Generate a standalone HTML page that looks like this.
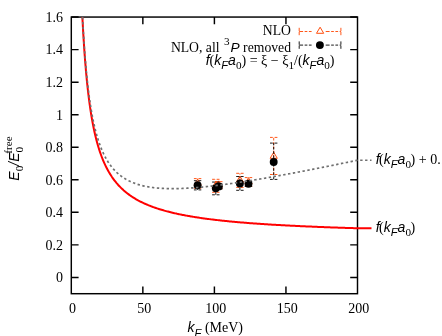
<!DOCTYPE html>
<html><head><meta charset="utf-8"><style>
html,body{margin:0;padding:0;background:#fff;}
svg{display:block;will-change:transform;}
text{font-family:"Liberation Serif",serif;font-size:14px;fill:#000;}
.s{font-family:"Liberation Sans",sans-serif;font-style:italic;}
.sub{font-size:11.2px;}
</style></head><body>
<svg width="442" height="336" viewBox="0 0 442 336">
<rect width="442" height="336" fill="#fff"/>
<g stroke="#000" stroke-width="1.45" fill="none">
<rect x="71.3" y="17.06" width="286.2" height="276.64"/>
<path d="M71.30,277.43 h7.3 M357.50,277.43 h-7.3"/><path d="M71.30,244.88 h7.3 M357.50,244.88 h-7.3"/><path d="M71.30,212.34 h7.3 M357.50,212.34 h-7.3"/><path d="M71.30,179.79 h7.3 M357.50,179.79 h-7.3"/><path d="M71.30,147.24 h7.3 M357.50,147.24 h-7.3"/><path d="M71.30,114.70 h7.3 M357.50,114.70 h-7.3"/><path d="M71.30,82.15 h7.3 M357.50,82.15 h-7.3"/><path d="M71.30,49.61 h7.3 M357.50,49.61 h-7.3"/><path d="M71.30,17.06 h7.3 M357.50,17.06 h-7.3"/><path d="M142.85,293.70 v-7.3 M142.85,17.06 v7.3"/><path d="M214.40,293.70 v-7.3 M214.40,17.06 v7.3"/><path d="M285.95,293.70 v-7.3 M285.95,17.06 v7.3"/>
</g>
<g><text x="63" y="282.23" text-anchor="end">0</text><text x="63" y="249.68" text-anchor="end">0.2</text><text x="63" y="217.14" text-anchor="end">0.4</text><text x="63" y="184.59" text-anchor="end">0.6</text><text x="63" y="152.04" text-anchor="end">0.8</text><text x="63" y="119.50" text-anchor="end">1</text><text x="63" y="86.95" text-anchor="end">1.2</text><text x="63" y="54.41" text-anchor="end">1.4</text><text x="63" y="21.86" text-anchor="end">1.6</text><text x="72.60" y="312.8" text-anchor="middle">0</text><text x="144.15" y="312.8" text-anchor="middle">50</text><text x="215.70" y="312.8" text-anchor="middle">100</text><text x="287.25" y="312.8" text-anchor="middle">150</text><text x="358.80" y="312.8" text-anchor="middle">200</text></g>
<g stroke="#ff4500" stroke-width="0.9" fill="none"><path d="M197.60,188.20 V178.60" stroke-dasharray="2.7,1.55"/><path d="M193.90,178.60 h7.4 M193.90,188.20 h7.4" stroke-dasharray="2.8,1.8,2.8,10"/><path d="M197.60,179.10 l3.6,6.1 h-7.2 z" fill="none" stroke-width="0.95"/><path d="M215.80,192.30 V179.30" stroke-dasharray="2.7,1.55"/><path d="M212.10,179.30 h7.4 M212.10,192.30 h7.4" stroke-dasharray="2.8,1.8,2.8,10"/><path d="M215.80,181.50 l3.6,6.1 h-7.2 z" fill="none" stroke-width="0.95"/><path d="M218.80,188.70 V181.70" stroke-dasharray="2.7,1.55"/><path d="M215.10,181.70 h7.4 M215.10,188.70 h7.4" stroke-dasharray="2.8,1.8,2.8,10"/><path d="M218.80,180.90 l3.6,6.1 h-7.2 z" fill="none" stroke-width="0.95"/><path d="M239.90,187.40 V173.30" stroke-dasharray="2.7,1.55"/><path d="M236.20,173.30 h7.4 M236.20,187.40 h7.4" stroke-dasharray="2.8,1.8,2.8,10"/><path d="M239.90,176.05 l3.6,6.1 h-7.2 z" fill="none" stroke-width="0.95"/><path d="M248.50,186.40 V177.60" stroke-dasharray="2.7,1.55"/><path d="M244.80,177.60 h7.4 M244.80,186.40 h7.4" stroke-dasharray="2.8,1.8,2.8,10"/><path d="M248.50,177.70 l3.6,6.1 h-7.2 z" fill="none" stroke-width="0.95"/><path d="M273.70,174.50 V137.40" stroke-dasharray="2.7,1.55"/><path d="M270.00,137.40 h7.4 M270.00,174.50 h7.4" stroke-dasharray="2.8,1.8,2.8,10"/><path d="M273.70,152.20 l3.6,6.1 h-7.2 z" fill="none" stroke-width="0.95"/>
<path d="M299.2,31.5 H312 M325.7,31.5 H340.9" stroke-dasharray="3.9,1.55,2.7,1.55,2.7,1.55"/><path d="M299.2,27.8 v7.4 M340.9,27.8 v7.4" stroke-dasharray="3.3,0.8"/>
<path d="M320.10,27.20 l3.6,6.1 h-7.2 z" fill="#fff" stroke-width="0.95"/>
</g>
<g stroke="#000" stroke-width="0.9" fill="none"><path d="M197.60,189.90 V180.70" stroke-dasharray="2.7,1.55"/><path d="M193.90,180.70 h7.4 M193.90,189.90 h7.4" stroke-dasharray="2.8,1.8,2.8,10"/><circle cx="197.60" cy="185.30" r="3.95" fill="#000" stroke="none"/><path d="M215.80,194.80 V182.05" stroke-dasharray="2.7,1.55"/><path d="M212.10,182.05 h7.4 M212.10,194.80 h7.4" stroke-dasharray="2.8,1.8,2.8,10"/><circle cx="215.80" cy="188.20" r="3.95" fill="#000" stroke="none"/><path d="M218.80,188.90 V183.90" stroke-dasharray="2.7,1.55"/><path d="M215.10,183.90 h7.4 M215.10,188.90 h7.4" stroke-dasharray="2.8,1.8,2.8,10"/><circle cx="218.80" cy="186.40" r="3.95" fill="#000" stroke="none"/><path d="M239.90,190.30 V176.50" stroke-dasharray="2.7,1.55"/><path d="M236.20,176.50 h7.4 M236.20,190.30 h7.4" stroke-dasharray="2.8,1.8,2.8,10"/><circle cx="239.90" cy="183.50" r="3.95" fill="#000" stroke="none"/><path d="M248.50,186.30 V181.30" stroke-dasharray="2.7,1.55"/><path d="M244.80,181.30 h7.4 M244.80,186.30 h7.4" stroke-dasharray="2.8,1.8,2.8,10"/><circle cx="248.50" cy="183.80" r="3.95" fill="#000" stroke="none"/><path d="M273.70,179.40 V143.10" stroke-dasharray="2.7,1.55"/><path d="M270.00,143.10 h7.4 M270.00,179.40 h7.4" stroke-dasharray="2.8,1.8,2.8,10"/><circle cx="273.70" cy="162.00" r="3.95" fill="#000" stroke="none"/>
<path d="M299.2,45.1 H312 M325.7,45.1 H340.9" stroke-dasharray="3.9,1.55,2.7,1.55,2.7,1.55"/><path d="M299.2,41.4 v7.4 M340.9,41.4 v7.4" stroke-dasharray="3.3,0.8"/>
<circle cx="319.9" cy="45.1" r="3.95" fill="#000" stroke="none"/>
</g>
<path d="M82.37,17.06 L83.29,33.92 L84.21,48.38 L85.13,60.92 L86.05,71.89 L86.97,81.57 L87.89,90.18 L88.81,97.88 L89.73,104.82 L90.65,111.09 L91.57,116.80 L92.49,122.01 L93.41,126.78 L94.33,131.18 L95.25,135.23 L96.17,138.99 L97.09,142.48 L98.01,145.72 L98.93,148.76 L99.85,151.59 L100.77,154.25 L101.69,156.75 L102.61,159.10 L103.53,161.32 L104.45,163.41 L105.37,165.39 L106.29,167.27 L107.21,169.05 L108.13,170.74 L109.05,172.35 L109.97,173.88 L110.89,175.34 L111.81,176.74 L112.73,178.07 L113.65,179.34 L114.57,180.56 L115.49,181.73 L116.41,182.86 L117.33,183.93 L118.25,184.97 L119.17,185.96 L120.09,186.92 L121.01,187.84 L121.93,188.73 L122.85,189.59 L123.77,190.42 L124.69,191.21 L125.61,191.98 L126.54,192.73 L127.46,193.45 L128.38,194.15 L129.30,194.83 L130.22,195.48 L131.14,196.11 L132.06,196.73 L132.98,197.33 L133.90,197.91 L134.82,198.47 L135.74,199.02 L136.66,199.55 L137.58,200.06 L138.50,200.57 L139.42,201.05 L140.34,201.53 L141.26,201.99 L142.18,202.44 L143.10,202.88 L144.02,203.31 L144.94,203.73 L145.86,204.14 L146.78,204.54 L147.70,204.92 L148.62,205.30 L149.54,205.67 L150.46,206.03 L151.38,206.39 L152.30,206.73 L153.22,207.07 L154.14,207.40 L155.06,207.72 L155.98,208.04 L156.90,208.34 L157.82,208.65 L158.74,208.94 L159.66,209.23 L160.58,209.51 L161.50,209.79 L162.42,210.06 L163.34,210.33 L164.26,210.59 L165.18,210.85 L166.10,211.10 L167.02,211.35 L167.94,211.59 L168.86,211.83 L169.78,212.06 L170.70,212.29 L171.62,212.51 L172.54,212.73 L173.46,212.95 L174.38,213.16 L175.30,213.37 L176.22,213.57 L177.14,213.78 L178.07,213.97 L178.99,214.17 L179.91,214.36 L180.83,214.55 L181.75,214.73 L182.67,214.91 L183.59,215.09 L184.51,215.27 L185.43,215.44 L186.35,215.61 L187.27,215.78 L188.19,215.95 L189.11,216.11 L190.03,216.27 L190.95,216.43 L191.87,216.58 L192.79,216.73 L193.71,216.88 L194.63,217.03 L195.55,217.18 L196.47,217.32 L197.39,217.46 L198.31,217.60 L199.23,217.74 L200.15,217.88 L201.07,218.01 L201.99,218.14 L202.91,218.27 L203.83,218.40 L204.75,218.53 L205.67,218.65 L206.59,218.78 L207.51,218.90 L208.43,219.02 L209.35,219.13 L210.27,219.25 L211.19,219.37 L212.11,219.48 L213.03,219.59 L213.95,219.70 L214.87,219.81 L215.79,219.92 L216.71,220.03 L217.63,220.13 L218.55,220.23 L219.47,220.34 L220.39,220.44 L221.31,220.54 L222.23,220.64 L223.15,220.74 L224.07,220.83 L224.99,220.93 L225.91,221.02 L226.83,221.11 L227.75,221.21 L228.67,221.30 L229.60,221.39 L230.52,221.48 L231.44,221.56 L232.36,221.65 L233.28,221.74 L234.20,221.82 L235.12,221.90 L236.04,221.99 L236.96,222.07 L237.88,222.15 L238.80,222.23 L239.72,222.31 L240.64,222.39 L241.56,222.47 L242.48,222.54 L243.40,222.62 L244.32,222.69 L245.24,222.77 L246.16,222.84 L247.08,222.91 L248.00,222.99 L248.92,223.06 L249.84,223.13 L250.76,223.20 L251.68,223.27 L252.60,223.34 L253.52,223.40 L254.44,223.47 L255.36,223.54 L256.28,223.60 L257.20,223.67 L258.12,223.73 L259.04,223.80 L259.96,223.86 L260.88,223.92 L261.80,223.98 L262.72,224.04 L263.64,224.11 L264.56,224.17 L265.48,224.22 L266.40,224.28 L267.32,224.34 L268.24,224.40 L269.16,224.46 L270.08,224.51 L271.00,224.57 L271.92,224.63 L272.84,224.68 L273.76,224.74 L274.68,224.79 L275.60,224.85 L276.52,224.90 L277.44,224.95 L278.36,225.00 L279.28,225.06 L280.20,225.11 L281.13,225.16 L282.05,225.21 L282.97,225.26 L283.89,225.31 L284.81,225.36 L285.73,225.41 L286.65,225.46 L287.57,225.50 L288.49,225.55 L289.41,225.60 L290.33,225.65 L291.25,225.69 L292.17,225.74 L293.09,225.78 L294.01,225.83 L294.93,225.87 L295.85,225.92 L296.77,225.96 L297.69,226.01 L298.61,226.05 L299.53,226.09 L300.45,226.14 L301.37,226.18 L302.29,226.22 L303.21,226.26 L304.13,226.30 L305.05,226.34 L305.97,226.38 L306.89,226.43 L307.81,226.47 L308.73,226.51 L309.65,226.54 L310.57,226.58 L311.49,226.62 L312.41,226.66 L313.33,226.70 L314.25,226.74 L315.17,226.78 L316.09,226.81 L317.01,226.85 L317.93,226.89 L318.85,226.92 L319.77,226.96 L320.69,227.00 L321.61,227.03 L322.53,227.07 L323.45,227.10 L324.37,227.14 L325.29,227.17 L326.21,227.21 L327.13,227.24 L328.05,227.28 L328.97,227.31 L329.89,227.34 L330.81,227.38 L331.73,227.41 L332.66,227.44 L333.58,227.48 L334.50,227.51 L335.42,227.54 L336.34,227.57 L337.26,227.60 L338.18,227.64 L339.10,227.67 L340.02,227.70 L340.94,227.73 L341.86,227.76 L342.78,227.79 L343.70,227.82 L344.62,227.85 L345.54,227.88 L346.46,227.91 L347.38,227.94 L348.30,227.97 L349.22,228.00 L350.14,228.03 L351.06,228.05 L351.98,228.08 L352.90,228.11 L353.82,228.14 L354.74,228.17 L355.66,228.20 L356.58,228.22 L357.50,228.25 H371.5" stroke="#ff0000" stroke-width="2" fill="none"/>
<path d="M82.50,17.06 L83.42,33.31 L84.34,47.23 L85.26,59.29 L86.18,69.84 L87.10,79.13 L88.02,87.37 L88.94,94.74 L89.86,101.35 L90.78,107.31 L91.70,112.72 L92.62,117.64 L93.54,122.14 L94.46,126.26 L95.38,130.05 L96.30,133.55 L97.22,136.78 L98.14,139.78 L99.06,142.56 L99.98,145.15 L100.90,147.57 L101.82,149.83 L102.74,151.94 L103.66,153.92 L104.58,155.78 L105.50,157.52 L106.42,159.17 L107.33,160.71 L108.25,162.17 L109.17,163.55 L110.09,164.86 L111.01,166.09 L111.93,167.26 L112.85,168.36 L113.77,169.41 L114.69,170.41 L115.61,171.35 L116.53,172.25 L117.45,173.10 L118.37,173.91 L119.29,174.68 L120.21,175.42 L121.13,176.11 L122.05,176.78 L122.97,177.41 L123.89,178.02 L124.81,178.59 L125.73,179.14 L126.65,179.67 L127.57,180.17 L128.49,180.64 L129.41,181.10 L130.33,181.53 L131.25,181.94 L132.17,182.34 L133.09,182.71 L134.01,183.07 L134.93,183.41 L135.85,183.74 L136.77,184.05 L137.69,184.35 L138.61,184.63 L139.53,184.90 L140.44,185.15 L141.36,185.39 L142.28,185.63 L143.20,185.84 L144.12,186.05 L145.04,186.25 L145.96,186.44 L146.88,186.62 L147.80,186.78 L148.72,186.94 L149.64,187.09 L150.56,187.23 L151.48,187.37 L152.40,187.49 L153.32,187.61 L154.24,187.72 L155.16,187.82 L156.08,187.92 L157.00,188.01 L157.92,188.09 L158.84,188.17 L159.76,188.24 L160.68,188.30 L161.60,188.36 L162.52,188.41 L163.44,188.46 L164.36,188.50 L165.28,188.54 L166.20,188.57 L167.12,188.60 L168.04,188.62 L168.96,188.64 L169.88,188.65 L170.80,188.66 L171.72,188.67 L172.64,188.67 L173.55,188.67 L174.47,188.66 L175.39,188.65 L176.31,188.64 L177.23,188.62 L178.15,188.60 L179.07,188.57 L179.99,188.54 L180.91,188.51 L181.83,188.48 L182.75,188.44 L183.67,188.40 L184.59,188.36 L185.51,188.31 L186.43,188.27 L187.35,188.21 L188.27,188.16 L189.19,188.10 L190.11,188.04 L191.03,187.98 L191.95,187.92 L192.87,187.85 L193.79,187.79 L194.71,187.71 L195.63,187.64 L196.55,187.57 L197.47,187.49 L198.39,187.41 L199.31,187.33 L200.23,187.25 L201.15,187.16 L202.07,187.07 L202.99,186.99 L203.91,186.89 L204.83,186.80 L205.75,186.71 L206.67,186.61 L207.58,186.52 L208.50,186.42 L209.42,186.32 L210.34,186.21 L211.26,186.11 L212.18,186.00 L213.10,185.90 L214.02,185.79 L214.94,185.68 L215.86,185.57 L216.78,185.46 L217.70,185.34 L218.62,185.23 L219.54,185.11 L220.46,185.00 L221.38,184.88 L222.30,184.76 L223.22,184.64 L224.14,184.51 L225.06,184.39 L225.98,184.27 L226.90,184.14 L227.82,184.01 L228.74,183.88 L229.66,183.76 L230.58,183.63 L231.50,183.49 L232.42,183.36 L233.34,183.23 L234.26,183.10 L235.18,182.96 L236.10,182.83 L237.02,182.69 L237.94,182.55 L238.86,182.41 L239.78,182.27 L240.69,182.13 L241.61,181.99 L242.53,181.85 L243.45,181.71 L244.37,181.56 L245.29,181.42 L246.21,181.27 L247.13,181.13 L248.05,180.98 L248.97,180.83 L249.89,180.69 L250.81,180.54 L251.73,180.39 L252.65,180.24 L253.57,180.09 L254.49,179.93 L255.41,179.78 L256.33,179.63 L257.25,179.48 L258.17,179.32 L259.09,179.17 L260.01,179.01 L260.93,178.86 L261.85,178.70 L262.77,178.54 L263.69,178.38 L264.61,178.23 L265.53,178.07 L266.45,177.91 L267.37,177.75 L268.29,177.59 L269.21,177.42 L270.13,177.26 L271.05,177.10 L271.97,176.94 L272.89,176.77 L273.81,176.61 L274.72,176.45 L275.64,176.28 L276.56,176.12 L277.48,175.95 L278.40,175.78 L279.32,175.62 L280.24,175.45 L281.16,175.28 L282.08,175.11 L283.00,174.95 L283.92,174.78 L284.84,174.61 L285.76,174.44 L286.68,174.27 L287.60,174.10 L288.52,173.93 L289.44,173.75 L290.36,173.58 L291.28,173.41 L292.20,173.24 L293.12,173.07 L294.04,172.89 L294.96,172.72 L295.88,172.54 L296.80,172.37 L297.72,172.19 L298.64,172.02 L299.56,171.84 L300.48,171.67 L301.40,171.49 L302.32,171.32 L303.24,171.14 L304.16,170.96 L305.08,170.78 L306.00,170.61 L306.92,170.43 L307.83,170.25 L308.75,170.07 L309.67,169.89 L310.59,169.71 L311.51,169.53 L312.43,169.35 L313.35,169.17 L314.27,168.99 L315.19,168.81 L316.11,168.63 L317.03,168.45 L317.95,168.27 L318.87,168.08 L319.79,167.90 L320.71,167.72 L321.63,167.54 L322.55,167.35 L323.47,167.17 L324.39,166.99 L325.31,166.80 L326.23,166.62 L327.15,166.44 L328.07,166.25 L328.99,166.07 L329.91,165.88 L330.83,165.70 L331.75,165.51 L332.67,165.32 L333.59,165.14 L334.51,164.95 L335.43,164.77 L336.35,164.58 L337.27,164.39 L338.19,164.20 L339.11,164.02 L340.03,163.83 L340.94,163.64 L341.86,163.45 L342.78,163.27 L343.70,163.08 L344.62,162.89 L345.54,162.70 L346.46,162.51 L347.38,162.32 L348.30,162.13 L349.22,161.94 L350.14,161.75 L351.06,161.56 L351.98,161.37 L352.90,161.18 L353.82,160.99 L354.74,160.80 L355.66,160.61 L356.58,160.42 L357.50,160.23 H371.5" stroke="#707070" stroke-width="1.7" fill="none" stroke-dasharray="2.4,2.5"/>
<text x="291" y="35.3" text-anchor="end" style="font-size:13.7px">NLO</text>
<text x="291" y="51.6" text-anchor="end" style="font-size:13.7px">NLO, all <tspan class="sub" dy="-7" dx="1">3</tspan><tspan class="s" dy="7" dx="1">P</tspan> removed</text>
<text x="205.7" y="64.8"><tspan class="s">f</tspan>(<tspan class="s">k</tspan><tspan class="s sub" dy="4.2">F</tspan><tspan class="s" dy="-4.2">a</tspan><tspan class="sub" dy="4.2">0</tspan><tspan dy="-4.2">) = ξ − ξ</tspan><tspan class="sub" dy="4.2">1</tspan><tspan dy="-4.2">/(</tspan><tspan class="s">k</tspan><tspan class="s sub" dy="4.2">F</tspan><tspan class="s" dy="-4.2">a</tspan><tspan class="sub" dy="4.2">0</tspan><tspan dy="-4.2">)</tspan></text>
<text x="375.8" y="164.2"><tspan class="s">f</tspan><tspan dx="-0.6">(</tspan><tspan class="s">k</tspan><tspan class="s sub" dy="4.2">F</tspan><tspan class="s" dy="-4.2">a</tspan><tspan class="sub" dy="4.2">0</tspan><tspan dy="-4.2" dx="-0.4">) + 0.15</tspan></text>
<text x="375.8" y="231.8"><tspan class="s">f</tspan><tspan dx="-0.6">(</tspan><tspan class="s">k</tspan><tspan class="s sub" dy="4.2">F</tspan><tspan class="s" dy="-4.2">a</tspan><tspan class="sub" dy="4.2">0</tspan><tspan dy="-4.2" dx="-0.4">)</tspan></text>
<text x="187.6" y="332.3"><tspan class="s">k</tspan><tspan class="s sub" dy="4.2">F</tspan><tspan dy="-4.2"> (MeV)</tspan></text>
<text transform="translate(18.9,180.7) rotate(-90)"><tspan class="s">E</tspan><tspan class="sub" dy="4.2">0</tspan><tspan class="s" dy="-4.2">/E</tspan><tspan class="sub" dy="4.2">0</tspan><tspan class="sub" dy="-11.2" dx="-6.8">free</tspan></text>
</svg>
</body></html>
